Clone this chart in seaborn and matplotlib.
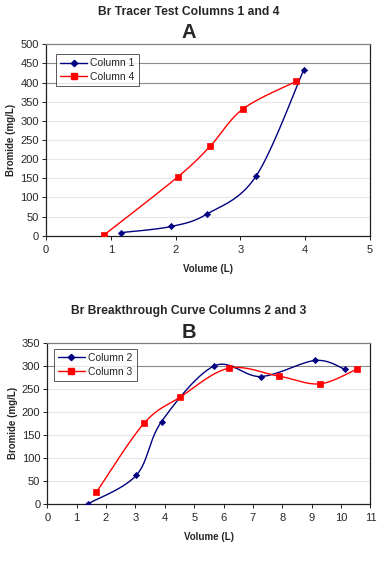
import numpy as np
import pandas as pd
import matplotlib
matplotlib.use("Agg")
import matplotlib.pyplot as plt
from matplotlib.lines import Line2D
import seaborn as sns

sns.set_style("white")
plt.rcParams['font.family'] = ['Liberation Sans', 'DejaVu Sans']

# ---- Data ----
a_col1_x = [1.16, 1.93, 2.49, 3.24, 3.98]
a_col1_y = [8, 24, 57, 155, 434]
a_col4_x = [0.89, 2.03, 2.53, 3.04, 3.86]
a_col4_y = [1, 153, 233, 331, 403]

b_col2_x = [1.39, 3.03, 3.89, 5.68, 7.27, 9.12, 10.12]
b_col2_y = [0, 62, 179, 300, 277, 312, 293]
b_col3_x = [1.67, 3.29, 4.52, 6.17, 7.87, 9.27, 10.53]
b_col3_y = [25, 175, 232, 295, 278, 261, 293]

NAVY = "#000080"
RED = "#FF0000"


def smooth(xs, ys, n=30):
    """Excel-like smoothed line (Catmull-Rom Bezier) through the data points."""
    P = np.column_stack([xs, ys]).astype(float)
    out = [P[0]]
    m = len(P)
    for i in range(m - 1):
        p0 = P[i - 1] if i > 0 else P[i]
        p1, p2 = P[i], P[i + 1]
        p3 = P[i + 2] if i + 2 < m else P[i + 1]
        c1 = p1 + (p2 - p0) / 6.0
        c2 = p2 - (p3 - p1) / 6.0
        t = np.linspace(0, 1, n)[1:, None]
        seg = ((1 - t) ** 3) * p1 + 3 * ((1 - t) ** 2) * t * c1 + 3 * (1 - t) * t ** 2 * c2 + t ** 3 * p2
        out.extend(seg)
    out = np.array(out)
    return out[:, 0], out[:, 1]


def draw_series(ax, xs, ys, color, marker, ms):
    sx, sy = smooth(xs, ys)
    df = pd.DataFrame({"x": sx, "y": sy})
    sns.lineplot(data=df, x="x", y="y", ax=ax, color=color, lw=1.0, sort=False,
                 estimator=None, zorder=3)
    pts = pd.DataFrame({"x": xs, "y": ys})
    sns.scatterplot(data=pts, x="x", y="y", ax=ax, color=color, marker=marker,
                    s=ms, edgecolor=color, linewidth=0.5, zorder=4)


def style_axes(ax, xmax, ymax, ystep, dark_lines):
    ax.set_xlim(0, xmax)
    ax.set_ylim(0, ymax)
    ax.set_xticks(range(0, xmax + 1))
    ax.set_yticks(range(0, ymax + 1, ystep))
    for v in range(ystep, ymax, ystep):
        c = "#8a8a8a" if v in dark_lines else "#e6e6e6"
        ax.axhline(v, color=c, lw=0.8, zorder=1)
    for side in ["left", "bottom", "right"]:
        ax.spines[side].set_color("#202020")
        ax.spines[side].set_linewidth(0.9)
    ax.spines["top"].set_color("#808080")
    ax.spines["top"].set_linewidth(0.9)
    ax.tick_params(axis="both", direction="out", length=3, width=0.7,
                   labelsize=8, color="#202020", left=True, bottom=True)
    ax.tick_params(axis="y", pad=2)
    ax.tick_params(axis="x", pad=4)
    ax.set_xlabel("Volume (L)", fontsize=7, fontweight="bold", labelpad=6)
    ax.set_ylabel("Bromide (mg/L)", fontsize=7, fontweight="bold", labelpad=3)


def add_legend(ax, labels, anchor):
    h = [Line2D([], [], color=NAVY, marker="D", ms=3.2, lw=1.0),
         Line2D([], [], color=RED, marker="s", ms=4.8, lw=1.0)]
    leg = ax.legend(h, labels, loc="upper left", bbox_to_anchor=anchor,
                    borderaxespad=0, fontsize=7.5, frameon=True,
                    fancybox=False, edgecolor="#303030", borderpad=0.4,
                    handlelength=2.6, handletextpad=0.3, labelspacing=0.35)
    leg.get_frame().set_linewidth(0.7)


fig = plt.figure(figsize=(3.78, 5.61), dpi=100)

# ---- Panel A ----
axA = fig.add_axes([0.1217, 0.5799, 0.857, 0.3412])
style_axes(axA, 5, 500, 50, {400, 450})
draw_series(axA, a_col1_x, a_col1_y, NAVY, "D", 10)
draw_series(axA, a_col4_x, a_col4_y, RED, "s", 18)
add_legend(axA, ["Column 1", "Column 4"], (0.031, 0.949))
fig.text(0.5, 1 - 12 / 561, "Br Tracer Test Columns 1 and 4", ha="center", va="center",
         fontsize=8.7, fontweight="bold")
fig.text(0.5, 1 - 32 / 561, "A", ha="center", va="center", fontsize=14.5, fontweight="bold")

# ---- Panel B ----
axB = fig.add_axes([0.1251, 0.1021, 0.855, 0.2865])
style_axes(axB, 11, 350, 50, {300})
draw_series(axB, b_col2_x, b_col2_y, NAVY, "D", 10)
draw_series(axB, b_col3_x, b_col3_y, RED, "s", 18)
add_legend(axB, ["Column 2", "Column 3"], (0.02, 0.963))
fig.text(0.5, 1 - 311 / 561, "Br Breakthrough Curve Columns 2 and 3", ha="center",
         va="center", fontsize=8.7, fontweight="bold")
fig.text(0.5, 1 - 332 / 561, "B", ha="center", va="center", fontsize=14.5, fontweight="bold")

fig.savefig("out.png", dpi=100)
